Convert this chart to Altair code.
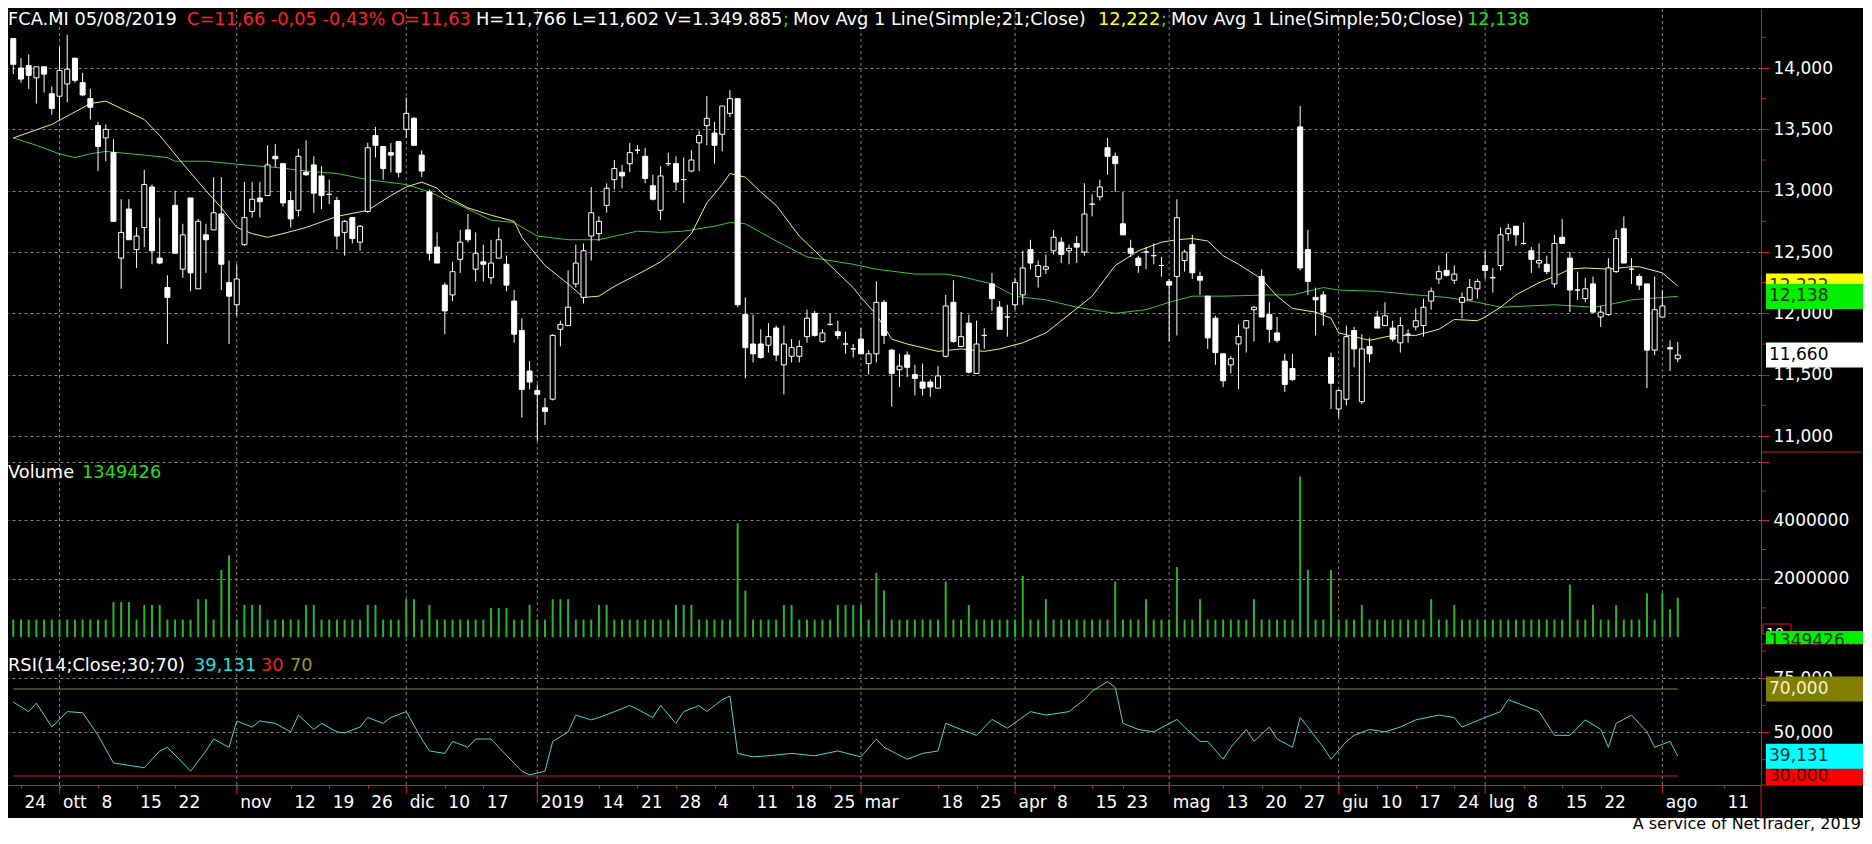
import altair as alt
import pandas as pd

FONT = "DejaVu Sans"
RED = "#cc1f1f"
GRID = "#808080"

# ---------------- data: FCA.MI daily candles, 21 Sep 2018 .. 5 Aug 2019 (trading-day index) ----------------
OPEN = [14.24, 14.00, 14.02, 13.92, 14.01, 13.79, 13.77, 13.87, 14.08, 13.88,
        13.75, 13.53, 13.43, 13.31, 12.45, 12.85, 12.52, 12.70, 13.03, 12.45,
        12.21, 12.88, 12.36, 12.94, 12.20, 12.64, 12.68, 12.81, 12.25, 12.07,
        12.56, 12.83, 12.94, 12.96, 13.28, 13.22, 12.92, 12.84, 13.15, 13.21,
        13.12, 12.97, 12.92, 12.66, 12.78, 12.58, 12.83, 13.45, 13.36, 13.31,
        13.40, 13.50, 13.59, 13.29, 12.99, 12.54, 12.23, 12.15, 12.44, 12.68,
        12.36, 12.42, 12.29, 12.45, 12.40, 12.10, 11.86, 11.53, 11.37, 11.23,
        11.30, 11.87, 11.90, 12.24, 12.13, 12.63, 12.65, 12.88, 13.09, 13.15,
        13.22, 13.33, 13.28, 13.04, 12.84, 13.22, 13.22, 13.09, 13.16, 13.39,
        13.53, 13.47, 13.46, 13.63, 13.75, 11.99, 11.75, 11.75, 11.74, 11.88,
        11.58, 11.65, 11.65, 11.81, 12.00, 11.77, 11.91, 11.85, 11.75, 11.71,
        11.79, 11.59, 11.67, 12.09, 11.70, 11.54, 11.66, 11.50, 11.44, 11.44,
        11.39, 11.65, 12.09, 11.73, 11.92, 11.51, 11.82, 12.24, 12.05, 11.97,
        12.07, 12.15, 12.52, 12.30, 12.36, 12.51, 12.58, 12.51, 12.57, 12.50,
        12.89, 12.95, 13.35, 13.28, 12.73, 12.53, 12.45, 12.50, 12.47, 12.39,
        12.26, 12.30, 12.43, 12.56, 12.30, 12.14, 11.96, 11.67, 11.58, 11.75,
        11.88, 12.03, 12.30, 11.99, 11.84, 11.61, 11.55, 13.52, 12.52, 12.13,
        12.15, 11.64, 11.22, 11.30, 11.86, 11.28, 11.73, 11.97, 11.90, 11.88,
        11.76, 11.83, 11.89, 11.90, 12.10, 12.28, 12.35, 12.27, 12.09, 12.11,
        12.20, 12.39, 12.29, 12.39, 12.65, 12.71, 12.57, 12.51, 12.41, 12.40,
        12.24, 12.62, 12.45, 12.19, 12.12, 12.24, 11.97, 11.99, 12.34, 12.69,
        12.36, 12.30, 12.24, 11.70, 11.97, 11.72, 11.63]
HIGH = [14.24, 14.08, 14.11, 14.01, 14.01, 13.85, 14.17, 14.27, 14.08, 13.96,
        13.83, 13.56, 13.54, 13.42, 12.93, 12.93, 12.70, 13.17, 13.05, 12.78,
        12.31, 13.00, 12.73, 12.94, 12.77, 12.73, 13.11, 13.11, 12.43, 12.40,
        13.07, 13.07, 13.07, 13.37, 13.38, 13.22, 12.99, 13.34, 13.41, 13.28,
        13.20, 13.09, 12.95, 12.76, 12.78, 12.72, 13.39, 13.52, 13.36, 13.39,
        13.40, 13.76, 13.60, 13.33, 13.01, 12.66, 12.25, 12.42, 12.68, 12.81,
        12.66, 12.56, 12.60, 12.70, 12.47, 12.19, 11.96, 11.61, 11.42, 11.31,
        11.83, 11.94, 12.35, 12.56, 12.57, 13.03, 12.79, 13.06, 13.25, 13.21,
        13.39, 13.37, 13.35, 13.13, 13.20, 13.31, 13.28, 13.27, 13.33, 13.49,
        13.77, 13.56, 13.69, 13.82, 13.75, 12.13, 11.99, 11.87, 11.92, 11.90,
        11.90, 11.79, 11.78, 12.03, 12.02, 11.87, 12.00, 11.94, 11.85, 11.75,
        11.88, 11.70, 12.26, 12.11, 11.71, 11.67, 11.69, 11.58, 11.59, 11.46,
        11.57, 12.15, 12.27, 12.01, 11.99, 11.94, 11.88, 12.33, 12.10, 12.07,
        12.29, 12.51, 12.60, 12.43, 12.48, 12.68, 12.62, 12.56, 12.63, 13.06,
        12.97, 13.09, 13.43, 13.31, 12.99, 12.60, 12.47, 12.54, 12.57, 12.46,
        12.28, 12.93, 12.52, 12.64, 12.34, 12.14, 11.98, 11.67, 11.65, 11.91,
        11.94, 12.06, 12.36, 12.09, 11.97, 11.67, 11.67, 13.69, 12.68, 12.21,
        12.18, 11.68, 11.38, 11.90, 11.89, 11.83, 11.80, 12.02, 12.09, 11.94,
        11.97, 11.87, 12.04, 12.12, 12.21, 12.39, 12.49, 12.39, 12.17, 12.28,
        12.28, 12.51, 12.37, 12.70, 12.73, 12.71, 12.74, 12.54, 12.57, 12.47,
        12.64, 12.77, 12.50, 12.34, 12.29, 12.30, 12.06, 12.45, 12.68, 12.79,
        12.45, 12.32, 12.24, 12.30, 12.19, 11.78, 11.766]
LOW = [13.95, 13.88, 13.83, 13.71, 13.80, 13.62, 13.57, 13.72, 13.88, 13.77,
       13.58, 13.16, 13.24, 12.75, 12.20, 12.60, 12.37, 12.54, 12.40, 12.40,
       11.75, 12.49, 12.29, 12.18, 12.20, 12.33, 12.68, 12.19, 11.75, 11.98,
       12.55, 12.78, 12.78, 12.96, 13.19, 12.87, 12.70, 12.79, 13.12, 12.82,
       12.85, 12.89, 12.52, 12.47, 12.57, 12.51, 12.82, 13.27, 13.09, 13.15,
       13.11, 13.43, 13.37, 13.11, 12.43, 12.41, 11.83, 12.10, 12.33, 12.58,
       12.26, 12.26, 12.24, 12.45, 12.18, 11.76, 11.15, 11.38, 10.96, 11.09,
       11.29, 11.73, 11.90, 12.21, 12.08, 12.43, 12.59, 12.82, 13.01, 13.02,
       13.15, 13.30, 13.06, 12.92, 12.76, 13.20, 13.00, 12.90, 13.15, 13.16,
       13.37, 13.22, 13.32, 13.60, 12.05, 11.47, 11.60, 11.63, 11.68, 11.61,
       11.34, 11.60, 11.60, 11.76, 11.81, 11.76, 11.90, 11.79, 11.67, 11.64,
       11.67, 11.50, 11.60, 11.75, 11.24, 11.40, 11.48, 11.33, 11.33, 11.32,
       11.39, 11.64, 11.76, 11.73, 11.51, 11.51, 11.71, 12.02, 11.87, 11.81,
       12.03, 12.07, 12.36, 12.21, 12.32, 12.48, 12.41, 12.40, 12.41, 12.47,
       12.79, 12.92, 13.13, 12.99, 12.64, 12.46, 12.33, 12.36, 12.40, 12.30,
       11.77, 11.82, 12.34, 12.28, 12.15, 11.71, 11.58, 11.40, 11.51, 11.38,
       11.68, 11.77, 11.97, 11.76, 11.76, 11.36, 11.45, 12.35, 12.15, 11.82,
       11.90, 11.22, 11.15, 11.25, 11.56, 11.26, 11.60, 11.88, 11.90, 11.77,
       11.68, 11.76, 11.86, 11.81, 12.03, 12.24, 12.30, 12.24, 11.96, 12.11,
       12.12, 12.28, 12.17, 12.35, 12.59, 12.55, 12.56, 12.33, 12.37, 12.32,
       12.21, 12.57, 12.01, 12.11, 12.09, 12.00, 11.89, 11.98, 12.33, 12.41,
       12.24, 12.19, 11.39, 11.66, 11.97, 11.53, 11.602]
CLOSE = [14.03, 13.91, 13.94, 14.01, 13.95, 13.67, 13.98, 13.99, 13.90, 13.78,
         13.68, 13.36, 13.50, 12.75, 12.66, 12.60, 12.63, 13.05, 12.51, 12.41,
         12.13, 12.49, 12.64, 12.33, 12.75, 12.60, 12.82, 12.40, 12.14, 12.28,
         12.78, 12.93, 12.91, 13.21, 13.26, 12.90, 12.77, 13.28, 13.13, 12.98,
         12.96, 12.97, 12.63, 12.75, 12.61, 12.71, 13.35, 13.37, 13.18, 13.29,
         13.15, 13.63, 13.37, 13.16, 12.49, 12.41, 12.02, 12.34, 12.58, 12.60,
         12.49, 12.40, 12.41, 12.60, 12.23, 11.83, 11.38, 11.44, 11.34, 11.20,
         11.82, 11.91, 12.05, 12.41, 12.51, 12.82, 12.75, 13.02, 13.18, 13.12,
         13.31, 13.33, 13.10, 12.93, 13.12, 13.22, 13.07, 13.09, 13.25, 13.45,
         13.59, 13.37, 13.69, 13.75, 12.07, 11.72, 11.67, 11.64, 11.81, 11.66,
         11.75, 11.72, 11.73, 11.96, 11.82, 11.84, 11.91, 11.82, 11.75, 11.71,
         11.67, 11.67, 12.09, 11.82, 11.51, 11.57, 11.56, 11.47, 11.39, 11.40,
         11.49, 12.06, 11.77, 11.81, 11.52, 11.75, 11.82, 12.12, 11.87, 11.97,
         12.25, 12.37, 12.41, 12.39, 12.38, 12.62, 12.48, 12.53, 12.54, 12.81,
         12.89, 13.03, 13.28, 13.22, 12.64, 12.49, 12.39, 12.50, 12.47, 12.39,
         12.23, 12.78, 12.50, 12.33, 12.27, 11.80, 11.68, 11.45, 11.63, 11.81,
         11.94, 12.05, 11.97, 11.87, 11.78, 11.42, 11.46, 12.37, 12.26, 12.11,
         12.01, 11.43, 11.37, 11.81, 11.71, 11.71, 11.67, 11.88, 11.98, 11.79,
         11.90, 11.83, 11.94, 12.05, 12.18, 12.34, 12.31, 12.32, 12.13, 12.21,
         12.26, 12.35, 12.29, 12.64, 12.69, 12.64, 12.57, 12.44, 12.43, 12.34,
         12.57, 12.57, 12.19, 12.19, 12.20, 12.01, 12.01, 12.37, 12.61, 12.41,
         12.36, 12.23, 11.70, 12.03, 12.06, 11.71, 11.66]

# daily volume, millions of shares
VOLUME_M = [0.6, 0.6, 0.6, 0.6, 0.6, 0.6, 0.6, 0.6, 0.6, 0.6,
            0.6, 0.6, 0.6, 1.2, 1.2, 1.2, 0.6, 1.1, 1.1, 1.1,
            0.6, 0.6, 0.6, 0.6, 1.3, 1.3, 0.6, 2.3, 2.8, 0.6,
            1.1, 1.1, 1.1, 0.6, 0.6, 0.6, 0.6, 0.6, 1.1, 1.1,
            0.6, 0.6, 0.6, 0.6, 0.6, 0.6, 1.1, 1.1, 0.6, 0.6,
            0.6, 1.3, 1.3, 0.6, 1.1, 0.6, 0.6, 0.6, 0.6, 0.6,
            0.6, 0.6, 1.0, 1.0, 1.0, 0.6, 0.6, 1.1, 0.6, 0.6,
            1.3, 1.3, 1.3, 0.6, 0.6, 0.6, 1.1, 1.1, 0.6, 0.6,
            0.6, 0.6, 0.6, 0.6, 0.6, 0.6, 1.1, 1.1, 1.1, 0.6,
            0.6, 0.6, 0.6, 0.6, 3.9, 1.6, 0.6, 0.6, 0.6, 0.6,
            1.1, 1.1, 0.6, 0.6, 0.6, 0.6, 0.6, 1.1, 1.1, 1.1,
            1.1, 0.6, 2.2, 1.6, 0.6, 0.6, 0.6, 0.6, 0.6, 0.6,
            0.6, 1.9, 0.6, 0.6, 1.1, 0.6, 0.6, 0.6, 0.6, 0.6,
            0.6, 2.1, 0.6, 0.6, 1.3, 0.6, 0.6, 0.6, 0.6, 0.6,
            0.6, 0.6, 0.6, 1.9, 0.6, 0.6, 0.6, 1.3, 0.6, 0.6,
            0.6, 2.4, 0.6, 0.6, 1.3, 0.6, 0.6, 0.6, 0.6, 0.6,
            0.6, 1.3, 0.6, 0.6, 0.6, 0.6, 0.6, 5.5, 2.3, 0.6,
            0.6, 2.3, 0.6, 0.6, 0.6, 1.1, 0.6, 0.6, 0.6, 0.6,
            0.6, 0.6, 0.6, 0.6, 1.3, 0.6, 0.6, 1.1, 0.6, 0.6,
            0.6, 0.6, 0.6, 0.6, 0.6, 0.6, 0.6, 0.6, 0.6, 0.6,
            0.6, 0.6, 1.8, 0.6, 0.6, 1.1, 0.6, 0.6, 1.1, 0.6,
            0.6, 0.6, 1.5, 0.6, 1.5, 0.95, 1.35]

MA21_I = [0, 5, 10, 12, 14, 17, 19, 22, 25, 27, 29, 31, 33, 35, 38, 42, 46, 49, 51, 53, 55, 56, 59, 62,
          65, 66, 69, 72, 74, 76, 78, 82, 84, 86, 88, 90, 92, 93, 95, 97, 99, 102, 105, 109, 110, 112,
          114, 116, 120, 123, 126, 128, 131, 134, 137, 140, 143, 146, 149, 151, 153, 155, 157, 159, 162,
          164, 166, 169, 171, 172, 176, 179, 182, 185, 187, 190, 191, 193, 195, 198, 200, 202, 204, 207,
          210, 211, 214, 216]
MA21_V = [13.43, 13.54, 13.71, 13.73, 13.67, 13.58, 13.45, 13.22, 13.00, 12.86, 12.70, 12.65, 12.62,
          12.65, 12.70, 12.79, 12.84, 12.96, 13.03, 13.07, 13.02, 12.96, 12.86, 12.80, 12.75, 12.62,
          12.39, 12.24, 12.13, 12.14, 12.22, 12.35, 12.42, 12.52, 12.65, 12.90, 13.05, 13.14, 13.11,
          12.99, 12.88, 12.63, 12.45, 12.21, 12.13, 11.99, 11.79, 11.75, 11.69, 11.71, 11.69, 11.71,
          11.76, 11.84, 11.99, 12.14, 12.39, 12.51, 12.58, 12.60, 12.61, 12.59, 12.47, 12.40, 12.28,
          12.14, 12.04, 12.01, 11.96, 11.84, 11.78, 11.82, 11.82, 11.87, 11.95, 11.94, 11.97, 12.05,
          12.15, 12.25, 12.30, 12.36, 12.37, 12.36, 12.38, 12.38, 12.33, 12.222]
MA50_I = [0, 3, 6, 8, 10, 12, 17, 20, 21, 25, 30, 34, 38, 42, 46, 51, 54, 55, 58, 62, 65, 68, 72, 76,
          81, 84, 87, 91, 93, 95, 99, 103, 105, 109, 112, 117, 121, 123, 127, 130, 134, 138, 143, 147,
          150, 153, 157, 163, 166, 170, 172, 177, 182, 186, 190, 193, 200, 205, 207, 210, 212, 216]
MA50_V = [13.43, 13.37, 13.30, 13.27, 13.30, 13.32, 13.29, 13.27, 13.24, 13.24, 13.21, 13.19, 13.16,
          13.14, 13.09, 13.05, 12.99, 12.96, 12.88, 12.76, 12.74, 12.63, 12.60, 12.60, 12.67, 12.66,
          12.67, 12.71, 12.74, 12.73, 12.59, 12.46, 12.44, 12.40, 12.36, 12.32, 12.32, 12.30, 12.24,
          12.14, 12.11, 12.05, 12.00, 12.03, 12.09, 12.14, 12.14, 12.15, 12.15, 12.21, 12.19, 12.18,
          12.15, 12.13, 12.09, 12.05, 12.07, 12.05, 12.07, 12.11, 12.12, 12.138]

RSI_I = [0, 2, 3, 5, 7, 9, 11, 13, 15, 17, 19, 20, 22, 23, 25, 26, 28, 29, 31, 32, 34, 36, 37, 39, 40,
         42, 43, 45, 46, 48, 49, 51, 53, 54, 56, 57, 59, 60, 62, 63, 66, 67, 69, 70, 72, 73, 75, 76, 78,
         80, 81, 83, 84, 86, 87, 89, 90, 92, 93, 94, 96, 98, 101, 104, 107, 110, 112, 113, 116, 118,
         120, 121, 123, 125, 127, 129, 132, 134, 137, 139, 140, 142, 143, 144, 146, 148, 151, 152, 154,
         155, 157, 158, 160, 161, 163, 164, 166, 167, 168, 170, 171, 173, 174, 176, 178, 180, 182, 185,
         187, 188, 191, 193, 194, 196, 198, 200, 202, 204, 206, 207, 208, 210, 212, 213, 215, 216]
RSI_V = [64.0, 59.6, 63.5, 52.5, 59.6, 59.1, 48.7, 36.0, 34.9, 33.8, 41.5, 43.2, 36.0, 32.2, 41.5,
         47.0, 43.2, 55.3, 52.5, 55.3, 54.2, 50.3, 58.0, 51.4, 54.2, 50.3, 49.8, 52.5, 56.9, 54.2, 56.9,
         59.6, 47.0, 41.5, 40.4, 45.9, 43.2, 47.0, 47.0, 43.2, 32.2, 30.5, 32.2, 45.9, 50.3, 58.0, 55.8,
         56.9, 59.6, 62.4, 60.7, 56.9, 62.4, 54.2, 59.6, 62.4, 59.6, 65.1, 66.8, 40.4, 38.8, 39.3, 40.4,
         39.3, 41.5, 38.8, 47.0, 43.2, 37.7, 40.4, 41.5, 54.2, 51.4, 48.7, 56.0, 52.0, 59.6, 58.0,
         59.6, 65.1, 69.0, 73.4, 70.7, 54.2, 51.4, 50.3, 56.0, 52.5, 45.9, 45.9, 37.7, 43.2, 51.4,
         45.9, 52.5, 47.0, 43.2, 56.9, 52.5, 43.2, 37.7, 45.9, 48.7, 51.4, 50.3, 52.5, 55.8, 58.0,
         56.9, 52.5, 56.9, 59.6, 65.1, 62.4, 59.6, 48.7, 48.7, 55.8, 51.4, 43.2, 54.2, 58.0, 50.3,
         43.2, 45.9, 39.131]

MONTH_I = [6, 29, 51, 68, 110, 130, 150, 172, 191, 214]
YEAR_I = [68]
TICK_I = [1, 6, 11, 16, 21, 29, 36, 41, 46, 51, 56, 61, 68, 76, 81, 86, 91, 96, 101, 106, 110, 120,
          125, 130, 135, 140, 144, 150, 157, 162, 167, 172, 177, 182, 187, 191, 196, 201, 206, 214, 222]
TICK_LABEL = ["24", "ott", "8", "15", "22", "nov", "12", "19", "26", "dic", "10", "17", "2019", "14",
              "21", "28", "4", "11", "18", "25", "mar", "18", "25", "apr", "8", "15", "23", "mag", "13",
              "20", "27", "giu", "10", "17", "24", "lug", "8", "15", "22", "ago", "11"]

PRICE_TICKS = [11.0, 11.5, 12.0, 12.5, 13.0, 13.5, 14.0]
PRICE_MINOR = [11.25, 11.75, 12.25, 12.75, 13.25, 13.75, 14.25]
VOL_TICKS = [2, 4, 6]
VOL_MINOR = [1, 3, 5]
RSI_TICKS = [50, 75]
RSI_MINOR = [37.5, 62.5, 87.5]
RSI_LEVELS = [70, 30]

PRICE_FLAGS = [(12.222, "12,222", "#ffff00", "#333300"),
               (12.138, "12,138", "#00ee00", "#003300"),
               (11.660, "11,660", "#ffffff", "#000000")]
RSI_FLAGS = [(30.0, "30,000", "#ff0000", "#550000", 18),
             (39.131, "39,131", "#00ffff", "#003333", 25),
             (70.0, "70,000", "#808000", "#f4f4dc", 25)]

HEADER = [("FCA.MI 05/08/2019", 6, "#ffffff"),
          ("C=11,66 -0,05 -0,43% O=11,63", 185, "#ff2222"),
          ("H=11,766 L=11,602 V=1.349.885", 474, "#ffffff"),
          (";", 781, "#22dd22"),
          ("Mov Avg 1 Line(Simple;21;Close)", 791, "#ffffff"),
          ("12,222", 1096, "#ffff22"),
          (";", 1159, "#22dd22"),
          ("Mov Avg 1 Line(Simple;50;Close)", 1169, "#ffffff"),
          ("12,138", 1465, "#22dd22")]
VOL_TITLE = [("Volume", 6, "#ffffff"), ("1349426", 80, "#22dd22")]
RSI_TITLE = [("RSI(14;Close;30;70)", 6, "#ffffff"), ("39,131", 192, "#22e0e0"),
             ("30", 259, "#ee2222"), ("70", 288, "#999933")]

# ---------------- layout ----------------
W = 1753
HP, HV, HR = 443, 192, 141
SHIFT = 6          # text x offset (reference px -> chart px)
RIGHT = 1855       # right edge of the whole canvas (chart px)

XDOM = [-0.685, 226.8]
PDOM = [10.8696, 14.481]
VDOM = [-0.236, 6.339]
RDOM = [25.86, 90.69]
P_PPU = HP / (PDOM[1] - PDOM[0])   # px per euro
R_PPU = HR / (RDOM[1] - RDOM[0])   # px per RSI point

n = len(OPEN)
candles = pd.DataFrame({"i": list(range(n)), "o": OPEN, "h": HIGH, "l": LOW, "c": CLOSE})
vol = pd.DataFrame({"i": list(range(n)), "v": VOLUME_M})
ma21 = pd.DataFrame({"i": MA21_I, "m": MA21_V})
ma50 = pd.DataFrame({"i": MA50_I, "m": MA50_V})
rsi = pd.DataFrame({"i": RSI_I, "r": RSI_V})
months = pd.DataFrame({"i": MONTH_I})
years = pd.DataFrame({"i": YEAR_I})

xs = alt.Scale(domain=XDOM, nice=False, zero=False, padding=0)
ps = alt.Scale(domain=PDOM, nice=False, zero=False, padding=0)
vs = alt.Scale(domain=VDOM, nice=False, zero=False, padding=0)
rs = alt.Scale(domain=RDOM, nice=False, zero=False, padding=0)


def yaxis(values, expr):
    return alt.Axis(orient="right", values=values, title=None, grid=True, gridColor=GRID,
                    gridDash=[3, 3], gridWidth=1, domain=True, domainColor=RED, domainWidth=1,
                    ticks=True, tickColor=RED, tickSize=8, tickWidth=1, labelColor="#ffffff",
                    labelFont=FONT, labelFontSize=17, labelPadding=4, labelExpr=expr,
                    labelOverlap=False, zindex=0)


COMMA3 = "replace(format(datum.value, '.3f'), '.', ',')"
PAX = yaxis(PRICE_TICKS, COMMA3)
VAX = yaxis(VOL_TICKS, "datum.value == 6 ? '' : format(datum.value * 1000000, 'd')")
RAX = yaxis(RSI_TICKS, COMMA3)

tick_expr = ("[" + ",".join("'%s'" % t for t in TICK_LABEL) + "][indexof(["
             + ",".join(str(t) for t in TICK_I) + "], datum.value)]")
XAX = alt.Axis(values=TICK_I, labelExpr=tick_expr, title=None, grid=False, domain=True,
               domainColor=RED, domainWidth=1, ticks=True, tickColor=RED, tickSize=3,
               labelColor="#ffffff", labelFont=FONT, labelFontSize=17, labelAlign="left",
               labelBaseline="top", labelPadding=6, labelOffset=3, labelOverlap=False,
               labelFlush=False, zindex=0)


def X(field="i", axis=None):
    if axis is None:
        return alt.X(field + ":Q", scale=xs, axis=None)
    return alt.X(field + ":Q", scale=xs, axis=axis)


def one(t):
    return pd.DataFrame({"t": [t]})


def label(t, x, y, color, size=17.8, align="left", baseline="middle", limit=0):
    kw = dict(align=align, baseline=baseline, font=FONT, fontSize=size, color=color)
    if limit:
        kw["limit"] = limit
        kw["ellipsis"] = ""
    return alt.Chart(one(t)).mark_text(**kw).encode(x=alt.value(x), y=alt.value(y), text="t:N")


def month_grid(axis=None):
    return alt.Chart(months).mark_rule(color=GRID, strokeDash=[3, 3], strokeWidth=1).encode(x=X("i", axis))


def minor_ticks(values, scale, axis):
    return alt.Chart(pd.DataFrame({"v": values})).mark_rule(color=RED, strokeWidth=1).encode(
        x=alt.value(W), x2=alt.value(W + 5), y=alt.Y("v:Q", scale=scale, axis=axis))


def hline(y, x0, x1, color=RED, width=1):
    return alt.Chart(one("")).mark_rule(color=color, strokeWidth=width).encode(
        x=alt.value(x0), x2=alt.value(x1), y=alt.value(y))


def flag(val, text, bg, fg, scale, axis, ppu, thick=25):
    half = thick / 2.0 / ppu
    d = pd.DataFrame({"v": [val], "t": [text]})
    box = alt.Chart(d).transform_calculate(
        y0="datum.v - %f" % half, y1="datum.v + %f" % half
    ).mark_rect(color=bg).encode(
        x=alt.value(W + 5), x2=alt.value(RIGHT), y=alt.Y("y0:Q", scale=scale, axis=axis), y2="y1:Q")
    txt = alt.Chart(d).mark_text(align="left", baseline="middle", font=FONT, fontSize=17,
                                 color=fg).encode(x=alt.value(W + 8),
                                                  y=alt.Y("v:Q", scale=scale, axis=axis), text="t:N")
    return [box, txt]


# ---------------- price panel ----------------
wicks = alt.Chart(candles).mark_rule(color="#ffffff", strokeWidth=1).encode(
    x=X(), y=alt.Y("l:Q", scale=ps, axis=PAX), y2="h:Q")
bodies = alt.Chart(candles).mark_bar(size=5, stroke="#ffffff", strokeWidth=1).encode(
    x=X(), y=alt.Y("o:Q", scale=ps, axis=PAX), y2="c:Q",
    fill=alt.condition("datum.c > datum.o", alt.value("#000000"), alt.value("#ffffff")))
l21 = alt.Chart(ma21).mark_line(color="#f0f07a", strokeWidth=1).encode(
    x=X(), y=alt.Y("m:Q", scale=ps, axis=PAX))
l50 = alt.Chart(ma50).mark_line(color="#3ec43e", strokeWidth=1).encode(
    x=X(), y=alt.Y("m:Q", scale=ps, axis=PAX))

price_layers = [month_grid(), l50, l21, wicks, bodies, minor_ticks(PRICE_MINOR, ps, PAX),
                hline(HP, W, RIGHT - 1)]
for v, t, bg, fg in PRICE_FLAGS:
    price_layers += flag(v, t, bg, fg, ps, PAX, P_PPU)
for t, x, c in HEADER:
    price_layers.append(label(t, x - SHIFT, 2, c, 17.8, baseline="top"))
price = alt.layer(*price_layers).properties(width=W, height=HP)

# ---------------- volume panel ----------------
vbars = alt.Chart(vol).mark_bar(size=2, color="#2ab52a").encode(
    x=X(), y=alt.Y("v:Q", scale=vs, axis=VAX), y2=alt.value(HV))
vol_layers = [month_grid(), vbars, minor_ticks(VOL_MINOR, vs, VAX), hline(HV, W, RIGHT - 1)]
vol_layers.append(alt.Chart(one("")).mark_rect(fill="#000000", stroke=RED, strokeWidth=1).encode(
    x=alt.value(W + 2), x2=alt.value(W + 30), y=alt.value(172), y2=alt.value(182)))
vol_layers.append(label("10", W + 5, 186, "#ffffff", 14, baseline="alphabetic"))
vol_layers.append(alt.Chart(one("")).mark_rect(fill="#00ee00").encode(
    x=alt.value(W + 5), x2=alt.value(RIGHT), y=alt.value(179), y2=alt.value(HV)))
vol_layers.append(label("1349426.00", W + 8, 194, "#003300", 17, baseline="alphabetic",
                        limit=RIGHT - W - 9))
for t, x, c in VOL_TITLE:
    vol_layers.append(label(t, x - SHIFT, 21, c, 17.8))
volume = alt.layer(*vol_layers).properties(width=W, height=HV)

# ---------------- RSI panel ----------------
levels = []
for lv, col in zip(RSI_LEVELS, ["#85854a", "#cc2020"]):
    levels.append(alt.Chart(pd.DataFrame({"a": [0], "b": [n - 1], "y": [lv]})).mark_rule(
        color=col, strokeWidth=1).encode(x=X("a", XAX), x2="b:Q", y=alt.Y("y:Q", scale=rs, axis=RAX)))
rline = alt.Chart(rsi).mark_line(color="#4fd3d3", strokeWidth=1).encode(
    x=X("i", XAX), y=alt.Y("r:Q", scale=rs, axis=RAX))
mticks = alt.Chart(months).mark_rule(color=RED, strokeWidth=1).encode(
    x=X("i", XAX), y=alt.value(HR), y2=alt.value(HR + 9))
yticks = alt.Chart(years).mark_rule(color=RED, strokeWidth=1).encode(
    x=X("i", XAX), y=alt.value(HR), y2=alt.value(HR + 18))
cover = alt.Chart(one("")).mark_rect(fill="#000000").encode(
    x=alt.value(W + 1), x2=alt.value(RIGHT), y=alt.value(1), y2=alt.value(16))

rsi_layers = [month_grid(XAX), *levels, rline, mticks, yticks, cover,
              minor_ticks(RSI_MINOR, rs, RAX), hline(HR, W, RIGHT - 1)]
rsi_layers.append(alt.Chart(one("")).mark_rule(color=RED, strokeWidth=1).encode(
    x=alt.value(W), y=alt.value(HR), y2=alt.value(HR + 36)))
for v, t, bg, fg, th in RSI_FLAGS:
    rsi_layers += flag(v, t, bg, fg, rs, RAX, R_PPU, th)
for t, x, c in RSI_TITLE:
    rsi_layers.append(label(t, x - SHIFT, 22, c, 17.8))
rsi_layers.append(alt.Chart(one("")).mark_rect(fill="#ffffff").encode(
    x=alt.value(0), x2=alt.value(RIGHT), y=alt.value(HR + 33), y2=alt.value(HR + 48)))
rsi_layers.append(label("A service of NetTrader, 2019", RIGHT - 2, HR + 44, "#000000", 16,
                        align="right", baseline="alphabetic"))
rsi_panel = alt.layer(*rsi_layers).properties(width=W, height=HR)

chart = alt.vconcat(price, volume, rsi_panel, spacing=0, bounds="flush").properties(
    background="#000000", padding=0).configure_view(strokeWidth=0)

chart.save("out.html", embed_options={"renderer": "svg", "actions": False})
